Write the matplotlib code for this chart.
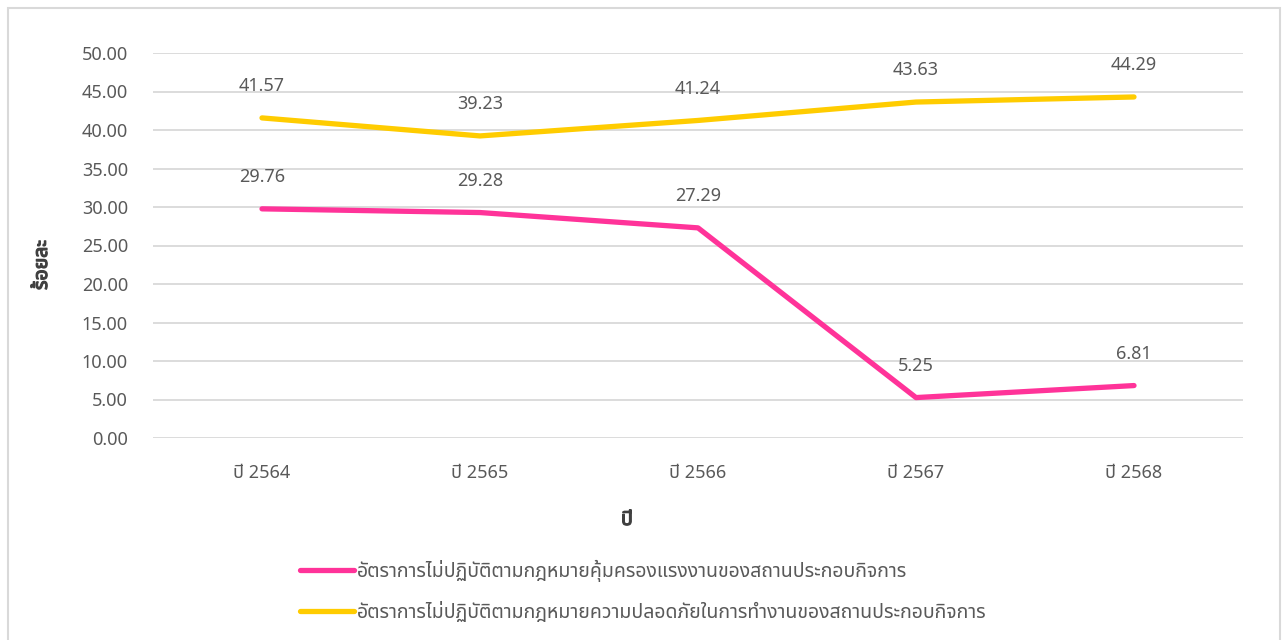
import matplotlib.pyplot as plt
import matplotlib.patheffects as pe
from matplotlib.patches import Rectangle

# data
years = ['ปี 2564', 'ปี 2565', 'ปี 2566', 'ปี 2567', 'ปี 2568']
labour = [29.76, 29.28, 27.29, 5.25, 6.81]
safety = [41.57, 39.23, 41.24, 43.63, 44.29]
labour_name = 'อัตราการไม่ปฏิบัติตามกฎหมายคุ้มครองแรงงานของสถานประกอบกิจการ'
safety_name = 'อัตราการไม่ปฏิบัติตามกฎหมายความปลอดภัยในการทำงานของสถานประกอบกิจการ'

plt.rcParams['font.family'] = ['Noto Sans Thai', 'Noto Sans', 'DejaVu Sans']

fig = plt.figure(figsize=(12.88, 6.4), dpi=100)
fig.patches.append(Rectangle((8 / 1288, -0.01), 1272 / 1288, 1 - 8 / 640 + 0.01,
                             transform=fig.transFigure, fill=False,
                             edgecolor='#d9d9d9', linewidth=1.5))

ax = fig.add_axes([153 / 1288, 202 / 640, 1090 / 1288, 385 / 640])
x = range(len(years))
ax.plot(x, labour, color='#ff3399', lw=3.8, solid_capstyle='round', label=labour_name)
ax.plot(x, safety, color='#ffcc00', lw=3.8, solid_capstyle='round', label=safety_name)

for xs, ys in ((x, labour), (x, safety)):
    for xi, yi in zip(xs, ys):
        ax.annotate('%.2f' % yi, (xi, yi), xytext=(0, 23), textcoords='offset points',
                    ha='center', va='center', fontsize=13, color='#595959')

ax.set_xlim(-0.5, 4.5)
ax.set_ylim(0, 50)
ax.set_yticks([i * 5 for i in range(11)])
ax.set_yticklabels(['%.2f' % (i * 5) for i in range(11)])
ax.set_xticks(list(x))
ax.set_xticklabels(years)
ax.tick_params(length=0, labelsize=13, labelcolor='#595959')
ax.tick_params(axis='x', pad=19)
ax.tick_params(axis='y', pad=18)
ax.grid(axis='y', color='#d9d9d9', lw=1.3)
ax.set_axisbelow(True)
for s in ax.spines.values():
    s.set_visible(False)

bold = [pe.withStroke(linewidth=0.9, foreground='#404040')]
ax.set_xlabel('ปี', fontsize=14, color='#404040', path_effects=bold)
ax.xaxis.set_label_coords(474 / 1090, -72 / 385)
ax.set_ylabel('ร้อยละ', fontsize=14, color='#404040', path_effects=bold)
ax.yaxis.set_label_coords(-101 / 1090, 173 / 385)

ax.legend(loc='upper left', bbox_to_anchor=(300 / 1288, 80 / 640),
          bbox_transform=fig.transFigure, frameon=False, fontsize=14,
          labelcolor='#595959', handlelength=2.8, handletextpad=0.15,
          labelspacing=1.0, borderpad=0, borderaxespad=0)

fig.savefig('out.png', dpi=100)
